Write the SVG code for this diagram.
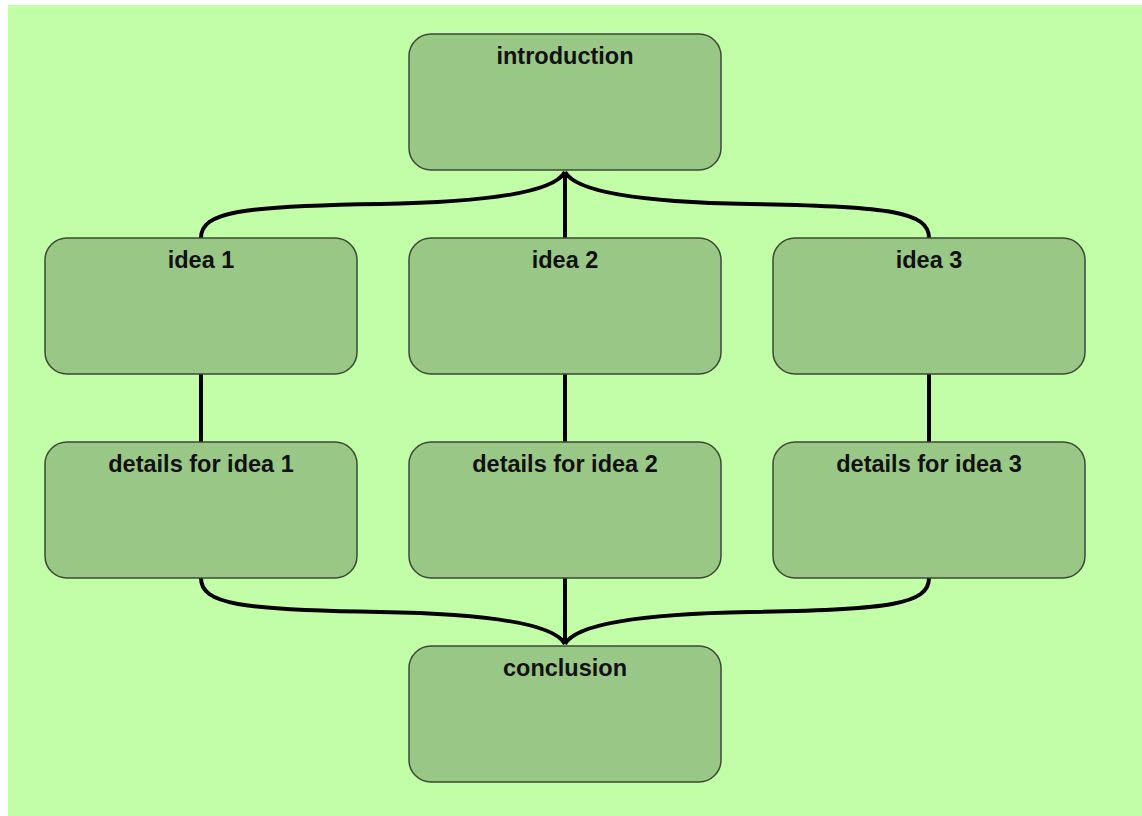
<svg xmlns="http://www.w3.org/2000/svg" width="1142" height="816" viewBox="0 0 1142 816">
<style>
.node rect{fill:#99c785;stroke:#3d4a36;stroke-width:1.5}
.node text{font-family:"Liberation Sans",Arial,sans-serif;font-weight:bold;font-size:23.5px;fill:#111;text-anchor:middle}
.conn path{fill:none;stroke:#000;stroke-width:4}
</style>
<rect x="0" y="0" width="1142" height="816" fill="#ffffff"/>
<rect x="8" y="5" width="1134" height="811" fill="#c2fea7"/>
<g class="conn" id="connectors">
<path d="M565,172 V238"/>
<path d="M201,238 C201,212 240,206 380,204 C500,202 555,190 565,172"/>
<path d="M929,238 C929,212 890,206 750,204 C630,202 575,190 565,172"/>
<path d="M201,374 V442"/>
<path d="M565,374 V442"/>
<path d="M929,374 V442"/>
<path d="M565,578 V644"/>
<path d="M201,578 C201,604 240,610 380,612 C500,614 555,626 565,644"/>
<path d="M929,578 C929,604 890,610 750,612 C630,614 575,626 565,644"/>
</g>
<g class="node" id="introduction"><rect x="409" y="34" width="312" height="136" rx="22"/><text x="565" y="63.5">introduction</text></g>
<g class="node" id="idea1"><rect x="45" y="238" width="312" height="136" rx="22"/><text x="201" y="267.5">idea 1</text></g>
<g class="node" id="idea2"><rect x="409" y="238" width="312" height="136" rx="22"/><text x="565" y="267.5">idea 2</text></g>
<g class="node" id="idea3"><rect x="773" y="238" width="312" height="136" rx="22"/><text x="929" y="267.5">idea 3</text></g>
<g class="node" id="details1"><rect x="45" y="442" width="312" height="136" rx="22"/><text x="201" y="471.5">details for idea 1</text></g>
<g class="node" id="details2"><rect x="409" y="442" width="312" height="136" rx="22"/><text x="565" y="471.5">details for idea 2</text></g>
<g class="node" id="details3"><rect x="773" y="442" width="312" height="136" rx="22"/><text x="929" y="471.5">details for idea 3</text></g>
<g class="node" id="conclusion"><rect x="409" y="646" width="312" height="136" rx="22"/><text x="565" y="675.5">conclusion</text></g>
</svg>
